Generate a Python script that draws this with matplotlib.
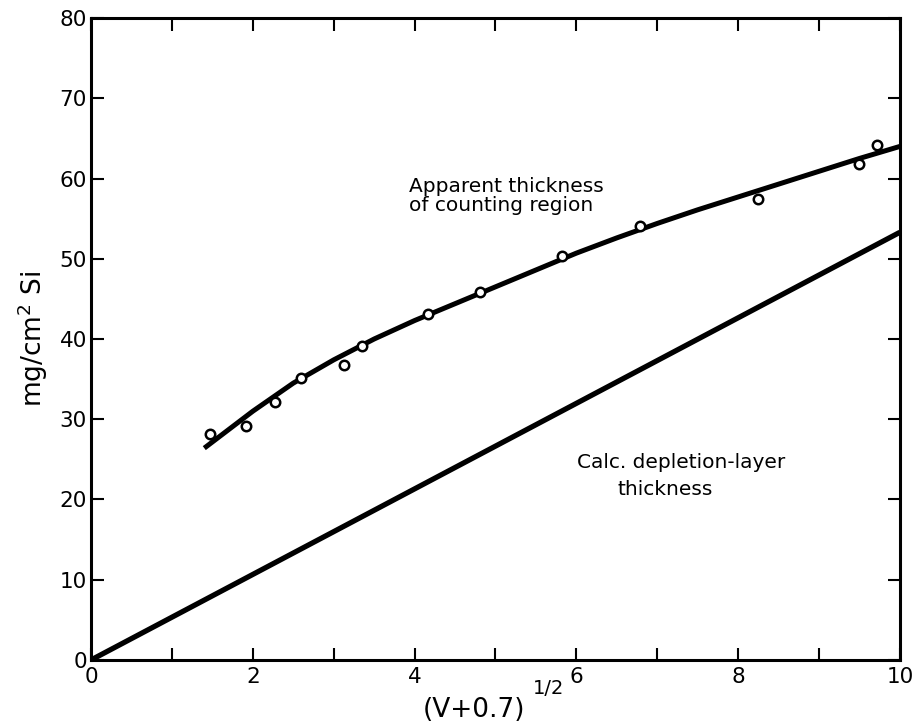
import numpy as np
import matplotlib
matplotlib.use('Agg')
import matplotlib.pyplot as plt

# measured points (apparent thickness of counting region)
x_pts = [1.47, 1.92, 2.28, 2.60, 3.13, 3.35, 4.17, 4.81, 5.82, 6.79, 8.25, 9.50, 9.72]
y_pts = [28.2, 29.2, 32.1, 35.1, 36.8, 39.1, 43.1, 45.9, 50.4, 54.1, 57.4, 61.8, 64.2]

# drawn fit curve
x_fit = [1.4, 2.0, 2.5, 3.0, 3.5, 4.0, 4.5, 5.0, 5.5, 6.0, 6.5, 7.0, 7.5, 8.0, 8.5, 9.0, 9.5, 10.0]
y_fit = [26.4, 31.0, 34.5, 37.4, 40.0, 42.3, 44.4, 46.5, 48.6, 50.7, 52.6, 54.4, 56.1, 57.7, 59.3,
         60.9, 62.5, 64.0]

# calculated depletion-layer thickness (straight line)
x_calc = [0.0, 10.0]
y_calc = [0.0, 53.3]

xticks = [0, 2, 4, 6, 8, 10]
yticks = [0, 10, 20, 30, 40, 50, 60, 70, 80]

fig = plt.figure(figsize=(9.15, 7.27), dpi=100)
ax = fig.add_axes([0.0995, 0.0922, 0.884, 0.883])

ax.plot(x_calc, y_calc, color='black', lw=3.8, solid_capstyle='butt')
ax.plot(x_fit, y_fit, color='black', lw=3.6, solid_capstyle='butt', solid_joinstyle='round')
ax.plot(x_pts, y_pts, 'o', mfc='white', mec='black', ms=6.8, mew=1.8, zorder=5)

ax.set_xlim(0, 10)
ax.set_ylim(0, 80)
ax.set_xticks(xticks)
ax.set_xticks(np.arange(0, 11, 1), minor=True)
ax.set_yticks(yticks)
ax.set_xticklabels([str(t) for t in xticks])
ax.set_yticklabels([str(t) for t in yticks])

ax.tick_params(axis='both', which='both', direction='in', width=1.5, labelsize=15.5,
               top=True, right=True)
ax.tick_params(axis='both', which='major', length=9)
ax.tick_params(axis='x', which='minor', length=9)
ax.tick_params(axis='x', pad=5)
ax.tick_params(axis='y', pad=3)
for s in ax.spines.values():
    s.set_linewidth(2.2)

ax.set_ylabel(r'mg/cm$^2$ Si', fontsize=19)
ax.yaxis.set_label_coords(-0.051, 0.5)
ax.set_xlabel('(V+0.7)', fontsize=19)
ax.xaxis.set_label_coords(0.4734, -0.058)
ax.text(0.566, -0.044, '1/2', transform=ax.transAxes, fontsize=14,
        ha='center', va='center')

ax.text(3.93, 60.2, 'Apparent thickness\nof counting region', fontsize=14.5,
        ha='left', va='top', linespacing=1.0)
ax.text(6.01, 25.8, 'Calc. depletion-layer', fontsize=14.5, ha='left', va='top')
ax.text(6.51, 22.4, 'thickness', fontsize=14.5, ha='left', va='top')

fig.savefig('out.png', dpi=100)
